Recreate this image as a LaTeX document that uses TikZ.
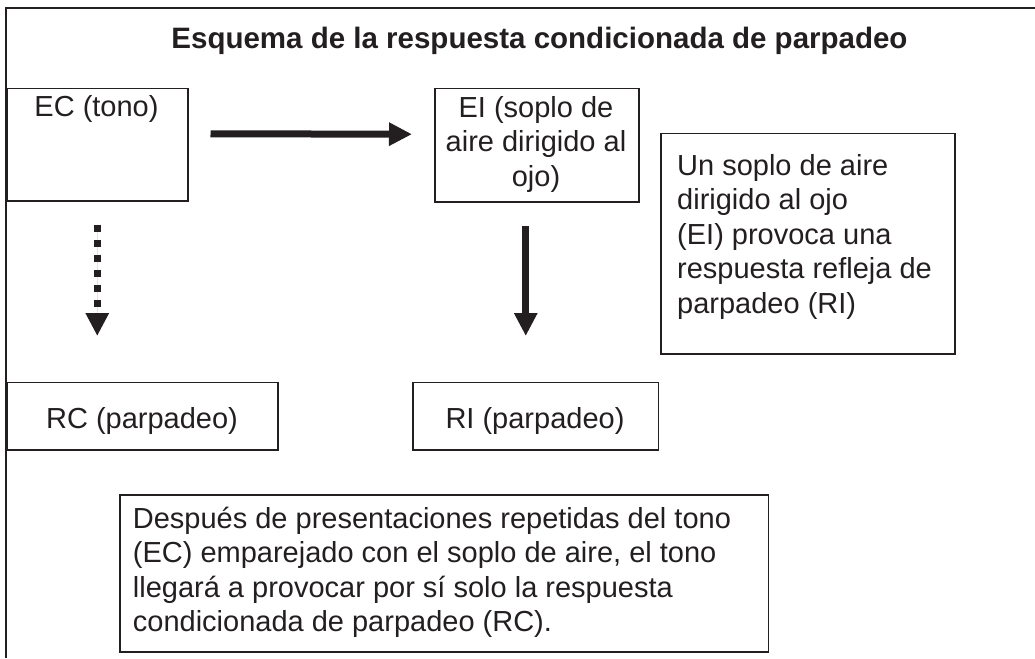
\documentclass[tikz,border=0pt]{standalone}
\usepackage{fontspec}
\setmainfont{Liberation Sans}
\usetikzlibrary{arrows.meta}
\definecolor{ink}{RGB}{35,31,32}
\begin{document}
\begin{tikzpicture}[x=1pt,y=-1pt,
  font=\fontsize{29}{34.6}\selectfont, color=ink,
  box/.style={draw=ink, line width=1.5pt, inner sep=0pt, anchor=north west},
  txt/.style={inner sep=0pt, text=ink},
  frameline/.style={draw=ink, line width=2pt},
  bigarrow/.style={draw=ink, fill=ink, line width=7pt, -{Triangle[length=23pt,width=22pt]}},
  dotarrow/.style={bigarrow, dash pattern=on 7pt off 8pt}]
\useasboundingbox (0,0) rectangle (1035,658);
\draw[frameline] (6,658) -- (6,8) -- (1035,8);
% boxes
\node[box, minimum width=181pt, minimum height=112pt] (ec) at (6,88) {};
\node[box, minimum width=204pt, minimum height=113pt] (ei) at (434,88) {};
\node[box, minimum width=294pt, minimum height=220.5pt] (info) at (660,132.5) {};
\node[box, minimum width=271pt, minimum height=67.5pt] (rc) at (6,381.5) {};
\node[box, minimum width=245.5pt, minimum height=67.5pt] (ri) at (412,381.5) {};
\node[box, minimum width=648.5pt, minimum height=157pt] (note) at (119,494) {};
% texts (base anchor of a multi-line node = baseline of its last line)
\node[txt, anchor=base, font=\fontsize{29.5}{34.6}\selectfont\bfseries] (title) at (539.5,49) {Esquema de la respuesta condicionada de parpadeo};
\node[txt, anchor=base] (ectext) at (96.5,117) {EC (tono)};
\node[txt, anchor=base, align=center] (eitext) at (536,186.5) {EI (soplo de\\aire dirigido al\\ojo)};
\node[txt, anchor=base west, align=left] (infotext) at (677,313.5) {Un soplo de aire\\dirigido al ojo\\(EI) provoca una\\respuesta refleja de\\parpadeo (RI)};
\node[txt, anchor=base] (rctext) at (142,428) {RC (parpadeo)};
\node[txt, anchor=base] (ritext) at (535,428) {RI (parpadeo)};
\node[txt, anchor=base west, align=left] (notetext) at (132.7,631.8) {Después de presentaciones repetidas del tono\\(EC) emparejado con el soplo de aire, el tono\\llegará a provocar por sí solo la respuesta\\condicionada de parpadeo (RC).};
% arrows
\draw[bigarrow, shorten <=22pt, shorten >=22pt] ([yshift=11pt]ec.east) -- ([yshift=11pt]ei.west);
\draw[bigarrow, shorten <=23pt, shorten >=45.5pt] ([xshift=-11pt]ei.south) -- ([xshift=-11pt]ei.south |- ri.north);
\draw[dotarrow, shorten <=23pt, shorten >=45.5pt] (ec.south) -- (ec.south |- rc.north);
\end{tikzpicture}
\end{document}
